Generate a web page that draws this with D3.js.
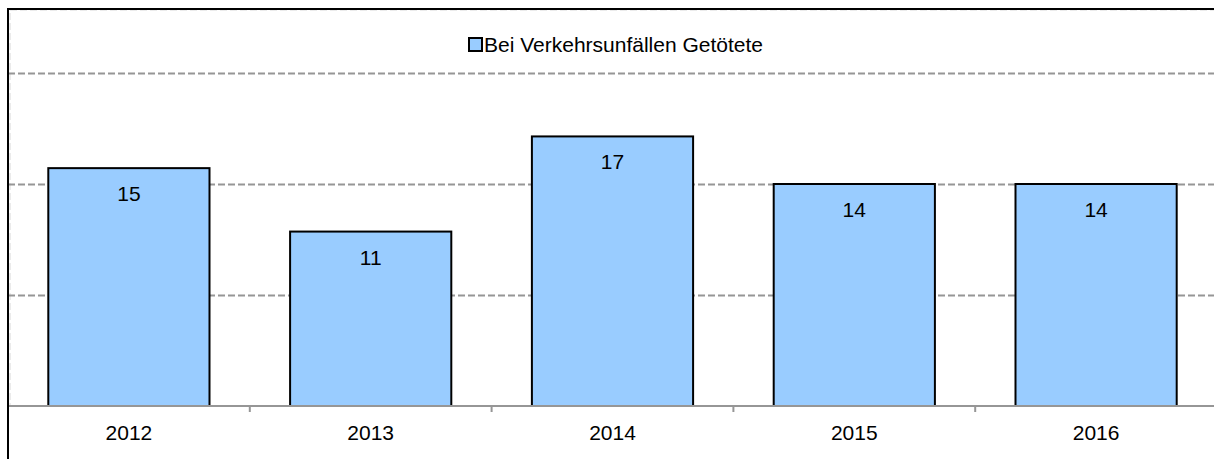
<!DOCTYPE html>
<html>
<head>
<meta charset="utf-8">
<script src="https://cdn.jsdelivr.net/npm/d3@7"></script>
<style>
  body { margin: 0; background: #fff; }
  svg { display: block; font-family: "Liberation Sans", Arial, sans-serif; }
</style>
</head>
<body>
<svg id="chart"></svg>
<script>
const years = ["2012", "2013", "2014", "2015", "2016"];
const killed = [15, 11, 17, 14, 14];
const gridTicks = [7, 14, 21];
const seriesName = "Bei Verkehrsunfällen Getötete";

const W = 1214, H = 459;
const plot = { left: 8, right: 1217, top: 10, bottom: 406 };

const svg = d3.select("#chart").attr("width", W).attr("height", H);

const x = d3.scaleBand()
    .domain(years)
    .range([plot.left, plot.right])
    .paddingInner(1 / 3)
    .paddingOuter(1 / 6);

const y = d3.scaleLinear()
    .domain([0, 21])
    .range([plot.bottom, plot.bottom - 333]);

// plot area outline (dashed, faint)
svg.append("rect")
    .attr("x", plot.left + 2).attr("y", plot.top)
    .attr("width", W).attr("height", plot.bottom - plot.top)
    .attr("fill", "none")
    .attr("stroke", "#d8d8d8")
    .attr("stroke-width", 1)
    .attr("stroke-dasharray", "7,3");

// gridlines
svg.append("g")
    .selectAll("line")
    .data(gridTicks)
    .join("line")
    .attr("x1", plot.left).attr("x2", W)
    .attr("y1", d => Math.round(y(d)) + 0.5).attr("y2", d => Math.round(y(d)) + 0.5)
    .attr("stroke", "#969696")
    .attr("stroke-width", 2)
    .attr("stroke-dasharray", "7,3");

// bars
svg.append("g")
    .selectAll("rect")
    .data(years)
    .join("rect")
    .attr("x", d => x(d))
    .attr("y", (d, i) => y(killed[i]))
    .attr("width", x.bandwidth())
    .attr("height", (d, i) => y(0) - y(killed[i]))
    .attr("fill", "#99ccff")
    .attr("stroke", "#000")
    .attr("stroke-width", 2);

// value labels
svg.append("g")
    .selectAll("text")
    .data(years)
    .join("text")
    .attr("x", d => x(d) + x.bandwidth() / 2)
    .attr("y", (d, i) => y(killed[i]) + 33)
    .attr("text-anchor", "middle")
    .attr("font-size", 21)
    .attr("fill", "#000")
    .text((d, i) => killed[i]);

// x axis
const xAxis = svg.append("g")
    .attr("transform", `translate(0, ${plot.bottom})`);
xAxis.append("line")
    .attr("x1", plot.left).attr("x2", W)
    .attr("stroke", "#969696").attr("stroke-width", 2);
xAxis.selectAll("line.tick")
    .data(years.slice(1))
    .join("line")
    .attr("class", "tick")
    .attr("x1", d => x(d) - x.step() * x.paddingInner() / 2)
    .attr("x2", d => x(d) - x.step() * x.paddingInner() / 2)
    .attr("y1", 0).attr("y2", 6)
    .attr("stroke", "#969696").attr("stroke-width", 2);
xAxis.selectAll("text")
    .data(years)
    .join("text")
    .attr("x", d => x(d) + x.bandwidth() / 2)
    .attr("y", 34)
    .attr("text-anchor", "middle")
    .attr("font-size", 21)
    .attr("fill", "#000")
    .text(d => d);

// outer border
svg.append("rect")
    .attr("x", 8).attr("y", 9)
    .attr("width", W + 10).attr("height", H + 10)
    .attr("fill", "none")
    .attr("stroke", "#000")
    .attr("stroke-width", 2);

// legend
const legend = svg.append("g").attr("transform", "translate(468, 37)");
legend.append("rect")
    .attr("x", 1).attr("y", 1)
    .attr("width", 13).attr("height", 13)
    .attr("fill", "#99ccff")
    .attr("stroke", "#000")
    .attr("stroke-width", 2);
legend.append("text")
    .attr("x", 16).attr("y", 15)
    .attr("font-size", 21)
    .attr("fill", "#000")
    .text(seriesName);
</script>
</body>
</html>
